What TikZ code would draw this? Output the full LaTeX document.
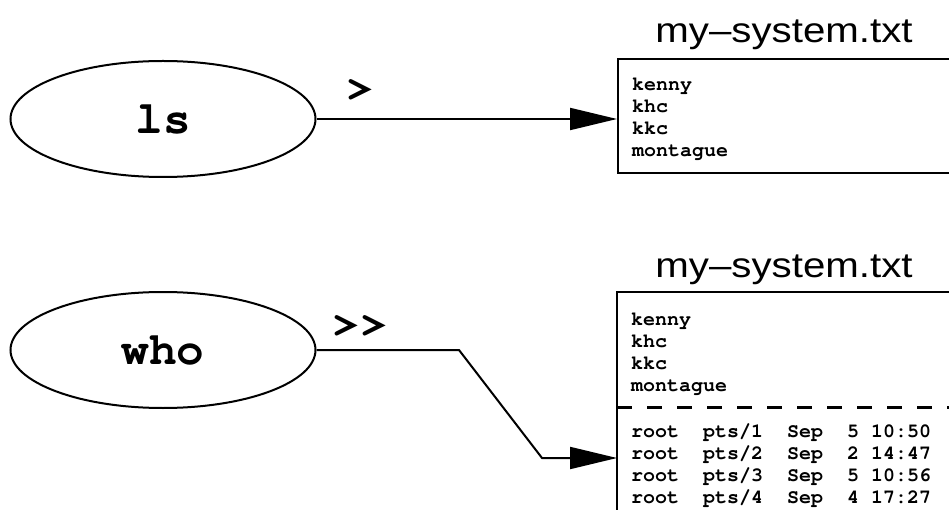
\documentclass[tikz,border=0pt]{standalone}
\usepackage[T1,TU]{fontenc}
\usepackage{fontspec}
\setmainfont{Liberation Sans}
\newfontfamily\namefont[FakeStretch=1.15]{Liberation Sans}
\newcommand{\courier}{\fontencoding{T1}\fontfamily{pcr}\fontseries{b}\selectfont}
\newcommand{\onesp}{\hspace*{0.6em}}
\newcommand{\twosp}{\hspace*{1.2em}}
\usetikzlibrary{arrows.meta,positioning,calc,shapes.geometric}
\tikzset{
  cmd/.style     ={ellipse, draw, line width=2pt, minimum width=305pt, minimum height=116pt,
                   font=\fontsize{46}{46}\selectfont\courier, inner sep=0pt},
  filebox/.style ={rectangle, anchor=north west, align=left, text width=360pt,
                   inner xsep=14pt, inner ysep=0pt,
                   font=\fontsize{20}{22}\selectfont\courier},
  fname/.style   ={font=\fontsize{35}{35}\selectfont\namefont, anchor=base, inner sep=0pt},
  redir/.style   ={font=\fontsize{46}{46}\selectfont\courier, inner sep=0pt},
  arr/.style     ={-{Triangle[length=47pt,width=22pt]}, line width=2pt},
  frame/.style   ={line width=2.4pt},
  sepline/.style ={line width=2.4pt, dash pattern=on 15pt off 15pt},
}
\begin{document}
\begin{tikzpicture}[x=1pt,y=-1pt]
  \useasboundingbox (0,0) rectangle (949,510);
  \clip (0,0) rectangle (949,510);

  % ls > my-system.txt
  \node[cmd] (ls) at (163,119) {ls};
  \node[filebox,frame,draw,text height=31pt,text depth=83pt] (lsFile) at (617,58)
    {kenny\\khc\\kkc\\montague};
  \node[fname] (lsName) at (784,43) {my–system.txt};
  \draw[arr] (ls.east) -- (ls.east -| lsFile.west);
  \node[redir] (gt) at (360,91) {>};

  % who >> my-system.txt
  \node[cmd] (who) at (163,350) {who};
  \node[filebox,text height=33pt,text depth=82pt] (whoOld) at (617,292)
    {kenny\\khc\\kkc\\montague};
  \node[filebox,text height=30pt,text depth=100pt] (whoNew) at (whoOld.south west)
    {root\twosp pts/1\twosp Sep\twosp 5\onesp 10:50\\
     root\twosp pts/2\twosp Sep\twosp 2\onesp 14:47\\
     root\twosp pts/3\twosp Sep\twosp 5\onesp 10:56\\
     root\twosp pts/4\twosp Sep\twosp 4\onesp 17:27};
  \draw[frame] (whoOld.north east) -- (whoOld.north west) -- (whoNew.south west) -- (whoNew.south east);
  \draw[sepline] (whoOld.south west) -- (whoOld.south east);
  \node[fname] (whoName) at (784,277) {my–system.txt};
  \coordinate (bendA) at (459,350);
  \coordinate (bendB) at (542,458);
  \draw[arr] (who.east) -- (bendA) -- (bendB) -- (bendB -| whoNew.west);
  \node[redir] (gtgt) at (360,327) {>{}>};
\end{tikzpicture}
\end{document}
